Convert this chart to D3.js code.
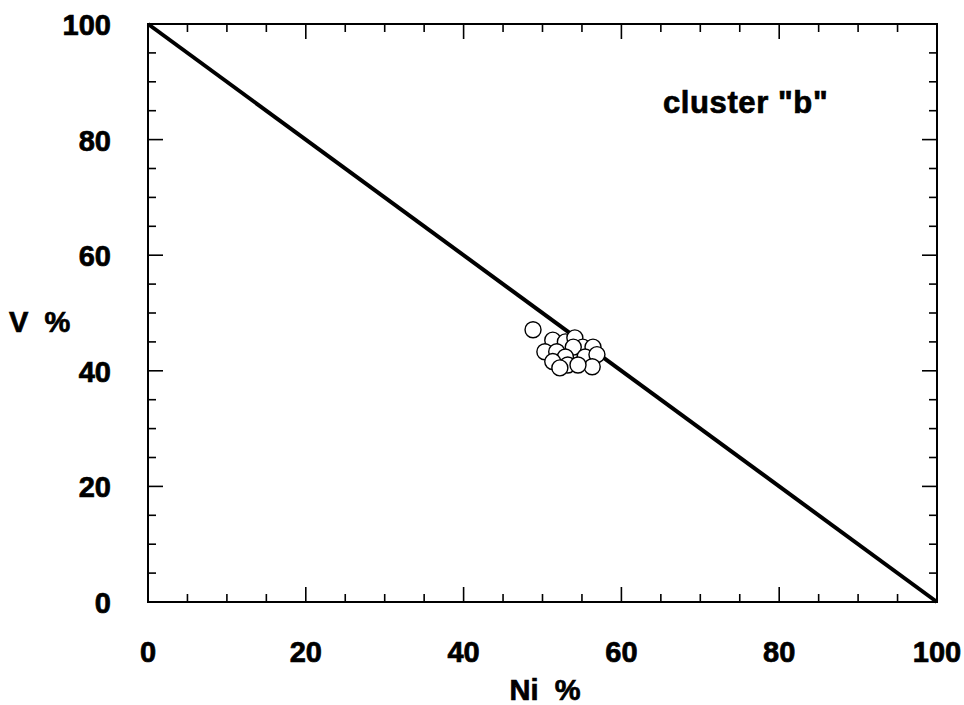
<!DOCTYPE html>
<html lang="en">
<head>
    <meta charset="UTF-8">
    <title>cluster b</title>
    <script src="https://d3js.org/d3.v7.min.js"></script>
    <style>
        body { margin: 0; background: #fff; }
        text { font-family: "Liberation Sans", Arial, sans-serif; font-weight: bold; fill: #000; stroke: #000; stroke-width: 0.7px; }
    </style>
</head>
<body>
<svg width="964" height="705"></svg>
<script>
    // data
    var niValues = [48.8, 51.3, 52.9, 54.1, 55.1, 56.4, 50.3, 51.8, 53.9, 52.9, 55.4, 56.9, 51.3, 53.2, 56.3, 54.5, 52.2];
    var vValues  = [47.1, 45.3, 45.0, 45.7, 44.1, 44.1, 43.3, 43.3, 44.1, 42.4, 42.4, 42.8, 41.6, 41.0, 40.7, 41.0, 40.5];
    var tickLabels = [0, 20, 40, 60, 80, 100];
    var minorTicks = d3.range(0, 101, 5);
    var lineEnds = [[0, 100], [100, 0]];

    var svg = d3.select("svg");
    var pLeft = 148, pRight = 937, pTop = 24, pBottom = 602;

    var x = d3.scaleLinear().domain([0, 100]).range([pLeft, pRight]);
    var y = d3.scaleLinear().domain([0, 100]).range([pBottom, pTop]);

    // frame
    svg.append("rect")
        .attr("x", pLeft).attr("y", pTop)
        .attr("width", pRight - pLeft).attr("height", pBottom - pTop)
        .attr("fill", "none").attr("stroke", "#000").attr("stroke-width", 2);

    function tickLen(d) { return d % 20 === 0 ? 15 : 8; }

    var g = svg.append("g").attr("stroke", "#000").attr("stroke-width", 1.6);
    // bottom + top ticks
    g.selectAll(".tb").data(minorTicks).enter().append("line")
        .attr("x1", function (d) { return x(d); }).attr("x2", function (d) { return x(d); })
        .attr("y1", pBottom).attr("y2", function (d) { return pBottom - tickLen(d); });
    g.selectAll(".tt").data(minorTicks).enter().append("line")
        .attr("x1", function (d) { return x(d); }).attr("x2", function (d) { return x(d); })
        .attr("y1", pTop).attr("y2", function (d) { return pTop + tickLen(d); });
    // left + right ticks
    g.selectAll(".tl").data(minorTicks).enter().append("line")
        .attr("y1", function (d) { return y(d); }).attr("y2", function (d) { return y(d); })
        .attr("x1", pLeft).attr("x2", function (d) { return pLeft + tickLen(d); });
    g.selectAll(".tr").data(minorTicks).enter().append("line")
        .attr("y1", function (d) { return y(d); }).attr("y2", function (d) { return y(d); })
        .attr("x1", pRight).attr("x2", function (d) { return pRight - tickLen(d); });

    // tick labels
    svg.selectAll(".xl").data(tickLabels).enter().append("text")
        .attr("x", function (d) { return x(d); })
        .attr("y", 662)
        .attr("text-anchor", "middle")
        .attr("font-size", "29px")
        .text(function (d) { return d; });
    svg.selectAll(".yl").data(tickLabels).enter().append("text")
        .attr("x", 111)
        .attr("y", function (d) { return y(d) + 11; })
        .attr("text-anchor", "end")
        .attr("font-size", "29px")
        .text(function (d) { return d; });

    // axis titles
    svg.append("text").attr("x", 545).attr("y", 700)
        .attr("text-anchor", "middle").attr("font-size", "29px")
        .attr("xml:space", "preserve")
        .text("Ni  %");
    svg.append("text").attr("x", 9).attr("y", 332)
        .attr("font-size", "29px")
        .attr("xml:space", "preserve")
        .text("V  %");

    svg.append("text").attr("x", 663).attr("y", 113)
        .attr("font-size", "31px")
        .attr("letter-spacing", "0.6px")
        .text("cluster \"b\"");

    // 1:1 closure line
    var line = d3.line().x(function (d) { return x(d[0]); }).y(function (d) { return y(d[1]); });
    svg.append("path").datum(lineEnds)
        .attr("d", line)
        .attr("fill", "none").attr("stroke", "#000").attr("stroke-width", 4);

    // points
    var pts = niValues.map(function (v, i) { return [v, vValues[i]]; });
    svg.selectAll(".pt").data(pts).enter().append("circle")
        .attr("cx", function (d) { return x(d[0]); })
        .attr("cy", function (d) { return y(d[1]); })
        .attr("r", 8)
        .attr("fill", "#fff")
        .attr("stroke", "#000")
        .attr("stroke-width", 1.4);
</script>
</body>
</html>
